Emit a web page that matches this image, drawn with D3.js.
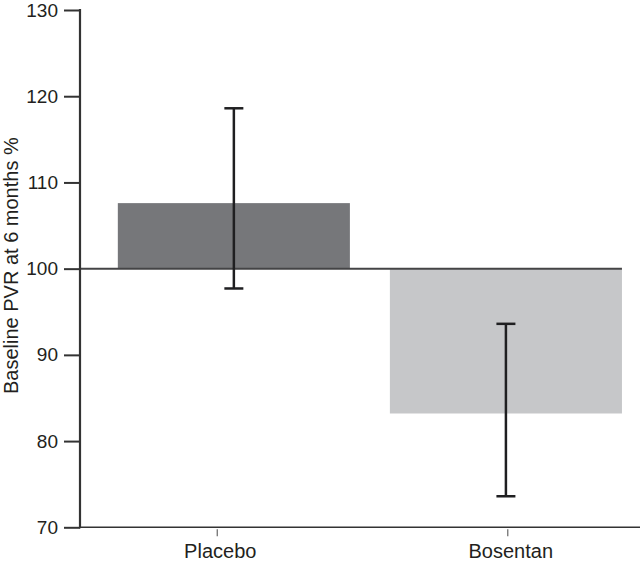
<!DOCTYPE html>
<html lang="en">
<head>
    <meta charset="UTF-8">
    <title>PVR chart</title>
    <style>
        body { margin: 0; background: #fff; }
        text { font-family: "Liberation Sans", Arial, sans-serif; fill: #231f20; }
    </style>
</head>
<body>
    <svg class="chart"></svg>

    <script src="https://cdnjs.cloudflare.com/ajax/libs/d3/7.8.5/d3.min.js"></script>
    <script>

    // data
    const categories = ['Placebo', 'Bosentan'];
    const means = [107.6, 83.2];
    const errLow = [97.7, 73.6];
    const errHigh = [118.6, 93.6];
    const baseline = 100;
    const yTicks = [70, 80, 90, 100, 110, 120, 130];
    const barColors = ['#76777a', '#c6c7c9'];

    const chartWidth = 640,
          chartHeight = 565;

    const margin = {top: 10, left: 80, right: 8, bottom: 38};
    const innerBottom = chartHeight - margin.bottom + 0.3;

    const svg = d3.select('.chart')
        .attr('width', chartWidth)
        .attr('height', chartHeight);

    const yScale = d3.scaleLinear()
        .domain([70, 130])
        .range([innerBottom, margin.top]);

    // bars
    const xScale = d3.scaleBand()
        .domain(categories)
        .range([margin.left, chartWidth - margin.right])
        .paddingInner(0.147)
        .paddingOuter(0.088)
        .align(0.79);

    // the category ticks in the original do not sit on the bar centres
    const xTickScale = d3.scalePoint()
        .domain(categories)
        .range([margin.left, chartWidth - margin.right])
        .padding(0.45)
        .align(0.523);

    const data = categories.map((c, i) => ({
        name: c, mean: means[i], lo: errLow[i], hi: errHigh[i], color: barColors[i]
    }));

    svg.selectAll('rect.bar')
        .data(data)
        .enter().append('rect')
        .attr('class', 'bar')
        .attr('x', d => xScale(d.name))
        .attr('width', xScale.bandwidth())
        .attr('y', d => yScale(Math.max(d.mean, baseline)))
        .attr('height', d => Math.abs(yScale(d.mean) - yScale(baseline)))
        .attr('fill', d => d.color);

    // baseline at 100
    const lastCat = categories[categories.length - 1];
    svg.append('line')
        .attr('x1', margin.left)
        .attr('x2', xScale(lastCat) + xScale.bandwidth())
        .attr('y1', yScale(baseline))
        .attr('y2', yScale(baseline))
        .attr('stroke', '#444446')
        .attr('stroke-width', 2);

    // y axis
    const yAxis = d3.axisLeft(yScale)
        .tickValues(yTicks)
        .tickSize(16)
        .tickPadding(6);

    const gy = svg.append('g')
        .attr('transform', `translate(${margin.left}, 0)`)
        .call(yAxis);

    gy.select('.domain').remove();
    gy.selectAll('.tick line').attr('stroke', '#333').attr('stroke-width', 2);
    gy.selectAll('.tick text')
        .style('font-size', '19px')
        .attr('fill', '#231f20');

    gy.append('line')
        .attr('x1', 0).attr('x2', 0)
        .attr('y1', yScale(130) - 1)
        .attr('y2', yScale(70) + 1)
        .attr('stroke', '#333')
        .attr('stroke-width', 2.2);

    // x axis
    const xAxis = d3.axisBottom(xTickScale)
        .tickSize(9)
        .tickPadding(8);

    const gx = svg.append('g')
        .attr('transform', `translate(0, ${innerBottom})`)
        .call(xAxis);

    gx.select('.domain').remove();
    gx.selectAll('.tick line').attr('stroke', '#666').attr('stroke-width', 1.2).attr('y1', 2);
    gx.selectAll('.tick text')
        .attr('y', 31)
        .attr('dy', 0)
        .attr('dx', 3)
        .style('font-size', '20px')
        .attr('fill', '#231f20');

    gx.append('line')
        .attr('x1', margin.left)
        .attr('x2', chartWidth)
        .attr('y1', 0).attr('y2', 0)
        .attr('stroke', '#333')
        .attr('stroke-width', 1.6);

    // error bars
    const cap = 9.5;
    const eb = svg.selectAll('g.err')
        .data(data)
        .enter().append('g')
        .attr('class', 'err')
        .attr('stroke', '#1f1f21')
        .attr('stroke-width', 2.5);

    eb.append('line')
        .attr('x1', d => xScale(d.name) + xScale.bandwidth() / 2)
        .attr('x2', d => xScale(d.name) + xScale.bandwidth() / 2)
        .attr('y1', d => yScale(d.lo))
        .attr('y2', d => yScale(d.hi));

    eb.append('line')
        .attr('x1', d => xScale(d.name) + xScale.bandwidth() / 2 - cap)
        .attr('x2', d => xScale(d.name) + xScale.bandwidth() / 2 + cap)
        .attr('y1', d => yScale(d.hi))
        .attr('y2', d => yScale(d.hi));

    eb.append('line')
        .attr('x1', d => xScale(d.name) + xScale.bandwidth() / 2 - cap)
        .attr('x2', d => xScale(d.name) + xScale.bandwidth() / 2 + cap)
        .attr('y1', d => yScale(d.lo))
        .attr('y2', d => yScale(d.lo));

    // y axis title
    svg.append('text')
        .attr('transform', 'rotate(-90)')
        .attr('x', -(yScale(70) + yScale(130)) / 2 + 3)
        .attr('y', 18)
        .attr('text-anchor', 'middle')
        .style('font-size', '20px')
        .text('Baseline PVR at 6 months %');

    </script>
</body>
</html>
